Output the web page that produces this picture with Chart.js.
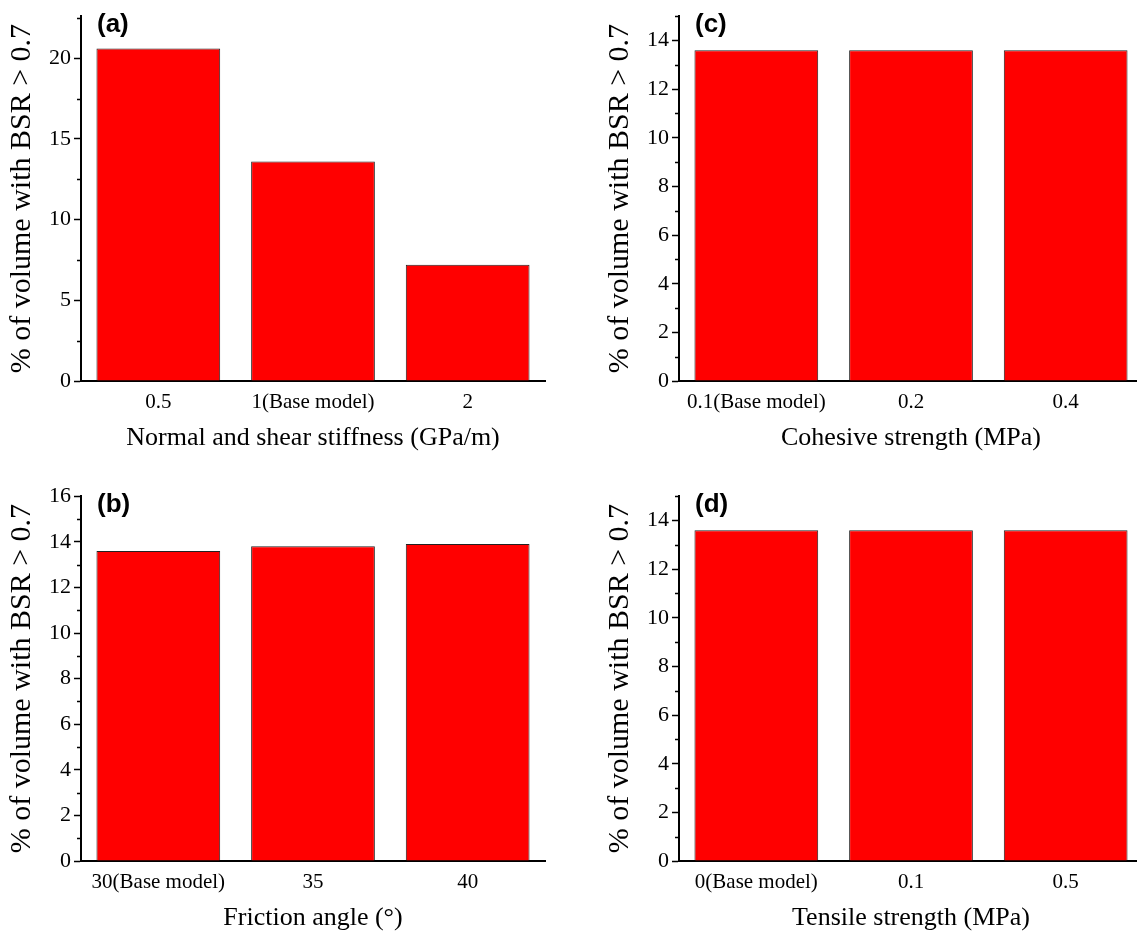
<!DOCTYPE html>
<html>
<head>
<meta charset="utf-8">
<script src="https://cdn.jsdelivr.net/npm/chart.js@4.4.1/dist/chart.umd.min.js"></script>
<style>
  body { margin: 0; background: #fff; overflow: hidden; width: 1137px; height: 939px; position: relative; }
  canvas { position: absolute; }
</style>
</head>
<body>
<canvas id="pa" width="560" height="470" style="left:0px;top:0px"></canvas>
<canvas id="pb" width="560" height="470" style="left:0px;top:480px"></canvas>
<canvas id="pc" width="560" height="470" style="left:598px;top:0px"></canvas>
<canvas id="pd" width="560" height="470" style="left:598px;top:480px"></canvas>
<script>
var yTitle = '% of volume with BSR > 0.7';

var stiffLabels = ['0.5', '1(Base model)', '2'];
var stiffValues = [20.6, 13.6, 7.2];
var stiffTicks = [0, 5, 10, 15, 20];

var frictionLabels = ['30(Base model)', '35', '40'];
var frictionValues = [13.6, 13.8, 13.9];
var frictionTicks = [0, 2, 4, 6, 8, 10, 12, 14, 16];

var cohesionLabels = ['0.1(Base model)', '0.2', '0.4'];
var cohesionValues = [13.6, 13.6, 13.6];
var cohesionTicks = [0, 2, 4, 6, 8, 10, 12, 14];

var tensileLabels = ['0(Base model)', '0.1', '0.5'];
var tensileValues = [13.6, 13.6, 13.6];
var tensileTicks = [0, 2, 4, 6, 8, 10, 12, 14];

var serif = '"Liberation Serif", "Times New Roman", serif';

function makePanel(id, tag, labels, values, ticks, yMax, xTitle) {
    // minor ticks half way between the labelled ones, plus the panel letter
    var extras = {
        id: 'extras_' + id,
        afterDraw: function(chart) {
            var ctx = chart.ctx, y = chart.scales.y, area = chart.chartArea;
            var step = ticks[1] - ticks[0];
            ctx.save();
            ctx.strokeStyle = '#000';
            ctx.lineWidth = 1.5;
            ctx.beginPath();
            for (var v = ticks[0] + step / 2; v <= yMax + 1e-6; v += step) {
                var py = Math.round(y.getPixelForValue(v)) + 0.5;
                ctx.moveTo(area.left, py);
                ctx.lineTo(area.left - 4, py);
            }
            ctx.stroke();
            ctx.fillStyle = '#000';
            ctx.font = 'bold 26px "Liberation Sans", Arial, sans-serif';
            ctx.textBaseline = 'middle';
            ctx.fillText(tag, area.left + 16, area.top + 9);
            ctx.restore();
        }
    };

    return new Chart(document.getElementById(id).getContext('2d'), {
        type: 'bar',
        data: {
            labels: labels,
            datasets: [{
                data: values,
                backgroundColor: '#ff0000',
                borderColor: '#222',
                borderWidth: 1,
                barPercentage: 0.8,
                categoryPercentage: 1.0
            }]
        },
        options: {
            responsive: false,
            animation: false,
            layout: { padding: { top: 15, right: 15, left: 0, bottom: 0 } },
            plugins: {
                legend: { display: false },
                tooltip: { enabled: false }
            },
            scales: {
                x: {
                    grid: { display: false, drawTicks: false },
                    border: { display: true, color: '#000', width: 2 },
                    ticks: {
                        color: '#000',
                        padding: 9,
                        maxRotation: 0,
                        font: { family: serif, size: 21 }
                    },
                    title: {
                        display: true,
                        text: xTitle,
                        color: '#000',
                        font: { family: serif, size: 26 },
                        padding: { top: 0, bottom: 16 }
                    },
                    afterFit: function(s) { s.height = 89; }
                },
                y: {
                    min: 0,
                    max: yMax,
                    grid: { drawOnChartArea: false, drawTicks: true, tickLength: 7, tickColor: '#000', tickWidth: 1.5 },
                    border: { display: true, color: '#000', width: 2 },
                    ticks: {
                        color: '#000',
                        padding: 3,
                        font: { family: serif, size: 22 }
                    },
                    title: {
                        display: true,
                        text: yTitle,
                        color: '#000',
                        font: { family: serif, size: 30 },
                        padding: { top: 4, bottom: 0 }
                    },
                    afterBuildTicks: function(s) {
                        s.ticks = ticks.map(function(v) { return { value: v }; });
                    },
                    afterFit: function(s) { s.width = 81; }
                }
            }
        },
        plugins: [extras]
    });
}

makePanel('pa', '(a)', stiffLabels, stiffValues, stiffTicks, 22.6, 'Normal and shear stiffness (GPa/m)');
makePanel('pb', '(b)', frictionLabels, frictionValues, frictionTicks, 16, 'Friction angle (\u00b0)');
makePanel('pc', '(c)', cohesionLabels, cohesionValues, cohesionTicks, 15, 'Cohesive strength (MPa)');
makePanel('pd', '(d)', tensileLabels, tensileValues, tensileTicks, 15, 'Tensile strength (MPa)');
</script>
</body>
</html>
